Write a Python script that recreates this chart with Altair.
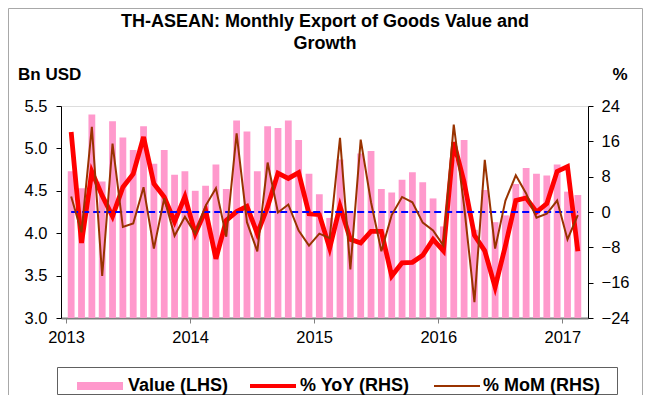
import altair as alt
import pandas as pd

# ---- data ----
months = [f"{y}-{m:02d}" for y in range(2013, 2018) for m in range(1, 13)][:50]  # Jan 2013 .. Feb 2017

value_bn_usd = [
    4.73, 4.53, 5.40, 4.61, 5.32, 5.13, 4.98, 5.26, 4.82, 4.98, 4.69, 4.73,   # 2013
    4.50, 4.56, 4.81, 4.52, 5.33, 5.20, 4.73, 5.26, 5.24, 5.33, 5.10, 4.70,   # 2014
    4.46, 4.18, 4.87, 4.24, 4.94, 4.97, 4.52, 4.48, 4.63, 4.72, 4.60, 4.41,   # 2015
    4.08, 4.87, 5.10, 4.04, 4.51, 4.13, 4.21, 4.58, 4.77, 4.70, 4.68, 4.81,   # 2016
    4.49, 4.45,                                                               # 2017
]
yoy_pct = [
    18.1, -7.0, 9.1, 3.7, -1.0, 5.6, 8.6, 17.0, 6.4, 3.4, -2.2, 3.5,
    -4.9, 0.4, -10.6, -1.9, 0.1, 1.3, -4.9, 1.2, 8.8, 7.6, 8.9, -0.4,
    -0.6, -8.2, 1.3, -6.2, -7.0, -4.4, -4.4, -14.5, -11.5, -11.4, -9.8, -6.2,
    -8.8, 15.8, 6.8, -5.3, -8.8, -17.0, -7.6, 2.6, 3.2, 0.0, 1.9, 9.2,
    10.3, -8.9,
]
mom_pct = [
    3.5, -4.6, 19.3, -14.5, 15.5, -3.4, -2.6, 5.6, -8.3, 3.1, -5.4, -1.1,
    -4.9, 1.4, 5.4, -5.6, 17.8, -2.3, -8.9, 11.2, -0.1, 1.7, -4.2, -7.6,
    -4.9, -5.9, 16.8, -13.0, 16.4, 2.2, -8.9, -0.7, 3.4, 2.2, -2.4, -4.2,
    -7.6, 19.8, 1.4, -20.4, 11.8, -8.3, 2.6, 8.3, 4.2, -1.3, -0.4, 2.6,
    -6.2, -0.7,
]
year_ticks = [2013, 2014, 2015, 2016, 2017]
lhs_ticks = [3.0, 3.5, 4.0, 4.5, 5.0, 5.5]
rhs_ticks = [-24, -16, -8, 0, 8, 16, 24]

title_lines = ["TH-ASEAN: Monthly Export of Goods Value and", "Growth"]

# month centre position on a continuous year axis
t = [int(m[:4]) + (int(m[5:]) - 1 + 0.5) / 12 for m in months]
df = pd.DataFrame({"t": t, "value": value_bn_usd, "yoy": yoy_pct, "mom": mom_pct})

W, H = 527, 212
FONT = "Liberation Sans"

xscale = alt.Scale(domain=[2013, 2013 + 50 / 12], nice=False, zero=False)
xaxis = alt.Axis(values=year_ticks, format="d", title=None, grid=False,
                 domainColor="#808080", domainWidth=2, tickColor="#808080",
                 tickSize=5, labelFontSize=16.5, labelPadding=6, labelColor="black",
                 labelOverlap=False)
X = alt.X("t:Q", scale=xscale, axis=xaxis)

bars = alt.Chart(df).mark_bar(color="#FF99CC", size=6.8).encode(
    x=X,
    y=alt.Y("value:Q", scale=alt.Scale(domain=[3.0, 5.5], zero=False, nice=False),
            axis=alt.Axis(orient="left", values=lhs_ticks, format=".1f", title=None,
                          grid=False, domainColor="black", tickColor="black",
                          tickSize=5, labelFontSize=16.5, labelPadding=9,
                          labelColor="black", labelOverlap=False)),
    y2=alt.datum(3.0),
)

pct_scale = alt.Scale(domain=[-24, 24], nice=False)
pct_axis = alt.Axis(orient="right", values=rhs_ticks, format="d", title=None,
                    grid=False, domainColor="black", tickColor="black",
                    tickSize=5, labelFontSize=16.5, labelPadding=8, labelColor="black",
                    labelOverlap=False, labelBound=False, labelFlush=False)

red = alt.Chart(df).mark_line(color="#FF0000", strokeWidth=4.8).encode(
    x=X, y=alt.Y("yoy:Q", scale=pct_scale, axis=pct_axis))
blue = alt.Chart(df).mark_line(color="#0000FF", strokeWidth=2, strokeDash=[7, 4]).encode(
    x=X, y=alt.datum(0, scale=pct_scale, axis=pct_axis))
brown = alt.Chart(df).mark_line(color="#993300", strokeWidth=2).encode(
    x=X, y=alt.Y("mom:Q", scale=pct_scale, axis=pct_axis))

right = alt.layer(red, blue, brown)

one = pd.DataFrame({"k": [0]})


def txt(s, x, y, size=18, align="left", bold=True):
    return alt.Chart(one).mark_text(text=s, align=align, baseline="middle",
                                    fontSize=size, fontWeight="bold" if bold else "normal",
                                    color="black", font=FONT).encode(
        x=alt.value(x), y=alt.value(y))


# plot origin is at page (61,106); canvas origin at page (8,8)
deco = [
    # outer frame (top, left, right)
    alt.Chart(one).mark_rule(color="#A8A8A8", strokeWidth=1).encode(
        x=alt.value(-52.5), x2=alt.value(581.5), y=alt.value(-97.5)),
    alt.Chart(one).mark_rule(color="#A8A8A8", strokeWidth=1).encode(
        x=alt.value(-52.5), y=alt.value(-97.5), y2=alt.value(290)),
    alt.Chart(one).mark_rule(color="#A8A8A8", strokeWidth=1).encode(
        x=alt.value(581.5), y=alt.value(-97.5), y2=alt.value(290)),
    txt(title_lines[0], 264, -84, size=18, align="center"),
    txt(title_lines[1], 264, -62, size=18, align="center"),
    txt("Bn USD", -43, -31, size=17),
    txt("%", 559, -31, size=17, align="center"),
    alt.Chart(one).mark_rect(fill="white", stroke="#606060", strokeWidth=1).encode(
        x=alt.value(-3.5), x2=alt.value(556.5), y=alt.value(261.5), y2=alt.value(288.5)),
    alt.Chart(one).mark_rect(color="#FF99CC").encode(
        x=alt.value(16), x2=alt.value(62), y=alt.value(276), y2=alt.value(284)),
    txt("Value (LHS)", 67, 280),
    alt.Chart(one).mark_rule(color="#FF0000", strokeWidth=4).encode(
        x=alt.value(189), x2=alt.value(235), y=alt.value(280)),
    txt("% YoY (RHS)", 239, 280),
    alt.Chart(one).mark_rule(color="#993300", strokeWidth=2).encode(
        x=alt.value(373), x2=alt.value(419), y=alt.value(280)),
    txt("% MoM (RHS)", 422, 280),
]

chart = alt.layer(bars, right, *deco).resolve_scale(y="independent").properties(
    width=W, height=H,
    autosize=alt.AutoSizeParams(type="none"),
    padding={"left": 53, "top": 98, "right": 55, "bottom": 77},
    background="white",
).configure_view(stroke=None).configure(font=FONT).configure_axis(labelOverlap=False)

chart.save("out.html", embed_options={"renderer": "svg", "actions": False})
